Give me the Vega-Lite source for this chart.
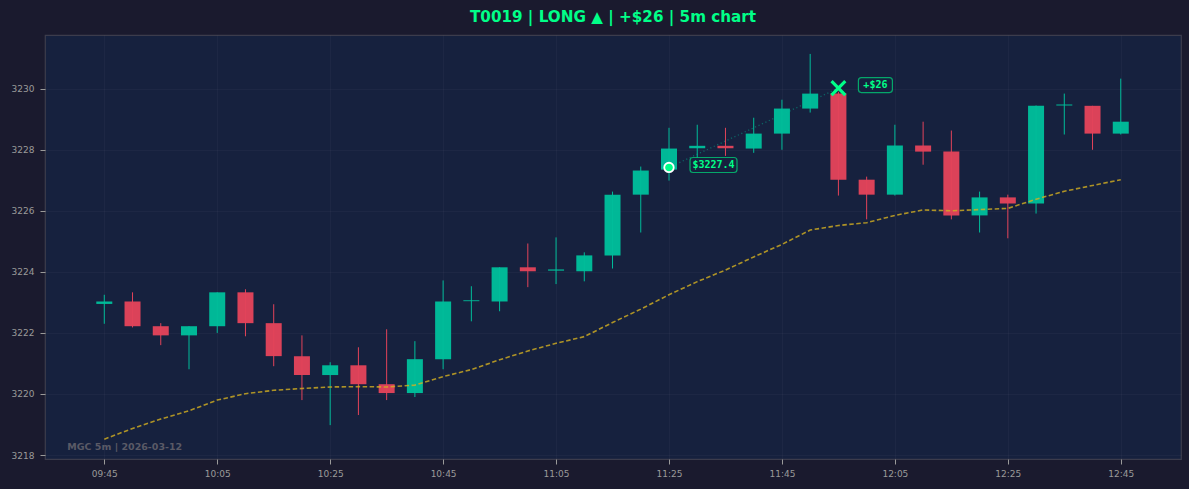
{
  "$schema": "https://vega.github.io/schema/vega-lite/v6.json",
  "width": 1136,
  "height": 424,
  "autosize": "none",
  "padding": {"left": 45, "top": 35, "right": 8, "bottom": 30},
  "background": "#1a1a2e",
  "title": {
    "text": "T0019 | LONG ▲ | +$26 | 5m chart",
    "font": "DejaVu Sans",
    "fontSize": 15.2,
    "fontWeight": "bold",
    "color": "#00ff88",
    "anchor": "middle",
    "offset": 10
  },
  "datasets": {
    "candles": [
      {"t": "2026-03-12T09:45:00", "open": 3222.95, "high": 3223.25, "low": 3222.3, "close": 3223.03},
      {"t": "2026-03-12T09:50:00", "open": 3223.03, "high": 3223.33, "low": 3222.18, "close": 3222.22},
      {"t": "2026-03-12T09:55:00", "open": 3222.22, "high": 3222.32, "low": 3221.6, "close": 3221.92},
      {"t": "2026-03-12T10:00:00", "open": 3221.92, "high": 3222.22, "low": 3220.81, "close": 3222.22},
      {"t": "2026-03-12T10:05:00", "open": 3222.22, "high": 3223.33, "low": 3222.0, "close": 3223.33},
      {"t": "2026-03-12T10:10:00", "open": 3223.33, "high": 3223.43, "low": 3221.89, "close": 3222.32},
      {"t": "2026-03-12T10:15:00", "open": 3222.32, "high": 3222.94, "low": 3220.91, "close": 3221.24},
      {"t": "2026-03-12T10:20:00", "open": 3221.24, "high": 3221.92, "low": 3219.8, "close": 3220.62},
      {"t": "2026-03-12T10:25:00", "open": 3220.62, "high": 3221.04, "low": 3218.98, "close": 3220.94},
      {"t": "2026-03-12T10:30:00", "open": 3220.94, "high": 3221.53, "low": 3219.31, "close": 3220.32},
      {"t": "2026-03-12T10:35:00", "open": 3220.32, "high": 3222.12, "low": 3219.8, "close": 3220.03},
      {"t": "2026-03-12T10:40:00", "open": 3220.03, "high": 3221.73, "low": 3219.9, "close": 3221.14},
      {"t": "2026-03-12T10:45:00", "open": 3221.14, "high": 3223.72, "low": 3220.81, "close": 3223.03},
      {"t": "2026-03-12T10:50:00", "open": 3223.04, "high": 3223.53, "low": 3222.38, "close": 3223.07},
      {"t": "2026-03-12T10:55:00", "open": 3223.03, "high": 3224.15, "low": 3222.71, "close": 3224.15},
      {"t": "2026-03-12T11:00:00", "open": 3224.15, "high": 3224.93, "low": 3223.5, "close": 3224.02},
      {"t": "2026-03-12T11:05:00", "open": 3224.04, "high": 3225.13, "low": 3223.6, "close": 3224.08},
      {"t": "2026-03-12T11:10:00", "open": 3224.02, "high": 3224.64, "low": 3223.69, "close": 3224.54},
      {"t": "2026-03-12T11:15:00", "open": 3224.54, "high": 3226.63, "low": 3224.11, "close": 3226.53},
      {"t": "2026-03-12T11:20:00", "open": 3226.53, "high": 3227.45, "low": 3225.29, "close": 3227.32},
      {"t": "2026-03-12T11:25:00", "open": 3227.35, "high": 3228.72, "low": 3226.99, "close": 3228.04},
      {"t": "2026-03-12T11:30:00", "open": 3228.05, "high": 3228.82, "low": 3227.6, "close": 3228.13},
      {"t": "2026-03-12T11:35:00", "open": 3228.13, "high": 3228.72, "low": 3227.8, "close": 3228.05},
      {"t": "2026-03-12T11:40:00", "open": 3228.04, "high": 3229.05, "low": 3227.9, "close": 3228.53},
      {"t": "2026-03-12T11:45:00", "open": 3228.53, "high": 3229.64, "low": 3228.0, "close": 3229.35},
      {"t": "2026-03-12T11:50:00", "open": 3229.35, "high": 3231.14, "low": 3229.22, "close": 3229.84},
      {"t": "2026-03-12T11:55:00", "open": 3229.84, "high": 3229.9, "low": 3226.5, "close": 3227.02},
      {"t": "2026-03-12T12:00:00", "open": 3227.02, "high": 3227.12, "low": 3225.72, "close": 3226.53},
      {"t": "2026-03-12T12:05:00", "open": 3226.53, "high": 3228.82, "low": 3226.5, "close": 3228.14},
      {"t": "2026-03-12T12:10:00", "open": 3228.14, "high": 3228.92, "low": 3227.51, "close": 3227.94},
      {"t": "2026-03-12T12:15:00", "open": 3227.94, "high": 3228.63, "low": 3225.72, "close": 3225.85},
      {"t": "2026-03-12T12:20:00", "open": 3225.85, "high": 3226.63, "low": 3225.29, "close": 3226.44},
      {"t": "2026-03-12T12:25:00", "open": 3226.44, "high": 3226.53, "low": 3225.1, "close": 3226.24},
      {"t": "2026-03-12T12:30:00", "open": 3226.24, "high": 3229.45, "low": 3225.91, "close": 3229.44},
      {"t": "2026-03-12T12:35:00", "open": 3229.45, "high": 3229.84, "low": 3228.5, "close": 3229.48},
      {"t": "2026-03-12T12:40:00", "open": 3229.44, "high": 3229.44, "low": 3228.0, "close": 3228.53},
      {"t": "2026-03-12T12:45:00", "open": 3228.53, "high": 3230.33, "low": 3228.5, "close": 3228.92}
    ],
    "ma": [
      {"t": "2026-03-12T09:45:00", "ma": 3218.52},
      {"t": "2026-03-12T09:50:00", "ma": 3218.87},
      {"t": "2026-03-12T09:55:00", "ma": 3219.18},
      {"t": "2026-03-12T10:00:00", "ma": 3219.45},
      {"t": "2026-03-12T10:05:00", "ma": 3219.8},
      {"t": "2026-03-12T10:10:00", "ma": 3220.01},
      {"t": "2026-03-12T10:15:00", "ma": 3220.12},
      {"t": "2026-03-12T10:20:00", "ma": 3220.18},
      {"t": "2026-03-12T10:25:00", "ma": 3220.23},
      {"t": "2026-03-12T10:30:00", "ma": 3220.24},
      {"t": "2026-03-12T10:35:00", "ma": 3220.23},
      {"t": "2026-03-12T10:40:00", "ma": 3220.29},
      {"t": "2026-03-12T10:45:00", "ma": 3220.57},
      {"t": "2026-03-12T10:50:00", "ma": 3220.8},
      {"t": "2026-03-12T10:55:00", "ma": 3221.12},
      {"t": "2026-03-12T11:00:00", "ma": 3221.41},
      {"t": "2026-03-12T11:05:00", "ma": 3221.66},
      {"t": "2026-03-12T11:10:00", "ma": 3221.88},
      {"t": "2026-03-12T11:15:00", "ma": 3222.34},
      {"t": "2026-03-12T11:20:00", "ma": 3222.78},
      {"t": "2026-03-12T11:25:00", "ma": 3223.25},
      {"t": "2026-03-12T11:30:00", "ma": 3223.68},
      {"t": "2026-03-12T11:35:00", "ma": 3224.06},
      {"t": "2026-03-12T11:40:00", "ma": 3224.49},
      {"t": "2026-03-12T11:45:00", "ma": 3224.9},
      {"t": "2026-03-12T11:50:00", "ma": 3225.37},
      {"t": "2026-03-12T11:55:00", "ma": 3225.52},
      {"t": "2026-03-12T12:00:00", "ma": 3225.61},
      {"t": "2026-03-12T12:05:00", "ma": 3225.85},
      {"t": "2026-03-12T12:10:00", "ma": 3226.03},
      {"t": "2026-03-12T12:15:00", "ma": 3226.0},
      {"t": "2026-03-12T12:20:00", "ma": 3226.04},
      {"t": "2026-03-12T12:25:00", "ma": 3226.08},
      {"t": "2026-03-12T12:30:00", "ma": 3226.38},
      {"t": "2026-03-12T12:35:00", "ma": 3226.64},
      {"t": "2026-03-12T12:40:00", "ma": 3226.83},
      {"t": "2026-03-12T12:45:00", "ma": 3227.02}
    ],
    "trade": [
      {"t": "2026-03-12T11:25:00", "price": 3227.42, "kind": "entry", "label": "$3227.4"},
      {"t": "2026-03-12T11:55:00", "price": 3230.02, "kind": "exit", "label": "+$26"}
    ],
    "notes": [
      {"t": "2026-03-12T09:38:27", "price": 3218.25, "note": "MGC 5m | 2026-03-12"}
    ]
  },
  "encoding": {
    "x": {
      "field": "t",
      "type": "temporal",
      "title": null,
      "scale": {
        "padding": 0,
        "domain": [
          {"year": 2026, "month": 3, "date": 12, "hours": 9, "minutes": 34, "seconds": 30},
          {"year": 2026, "month": 3, "date": 12, "hours": 12, "minutes": 55, "seconds": 40}
        ]
      },
      "axis": {
        "format": "%H:%M",
        "values": [
          {"year": 2026, "month": 3, "date": 12, "hours": 9, "minutes": 45},
          {"year": 2026, "month": 3, "date": 12, "hours": 10, "minutes": 5},
          {"year": 2026, "month": 3, "date": 12, "hours": 10, "minutes": 25},
          {"year": 2026, "month": 3, "date": 12, "hours": 10, "minutes": 45},
          {"year": 2026, "month": 3, "date": 12, "hours": 11, "minutes": 5},
          {"year": 2026, "month": 3, "date": 12, "hours": 11, "minutes": 25},
          {"year": 2026, "month": 3, "date": 12, "hours": 11, "minutes": 45},
          {"year": 2026, "month": 3, "date": 12, "hours": 12, "minutes": 5},
          {"year": 2026, "month": 3, "date": 12, "hours": 12, "minutes": 25},
          {"year": 2026, "month": 3, "date": 12, "hours": 12, "minutes": 45}
        ],
        "labelPadding": 5
      }
    }
  },
  "layer": [
    {
      "data": {"name": "trade"},
      "mark": {"type": "line", "stroke": "#00b894", "strokeOpacity": 0.45, "strokeWidth": 1.3, "strokeDash": [1.2, 2.6]},
      "encoding": {
        "y": {"field": "price", "type": "quantitative"}
      }
    },
    {
      "data": {"name": "candles"},
      "mark": {"type": "rule", "strokeWidth": 1},
      "encoding": {
        "y": {
          "field": "low",
          "type": "quantitative",
          "title": null,
          "scale": {"domain": [3217.87, 3231.76], "nice": false, "zero": false},
          "axis": {"values": [3218, 3220, 3222, 3224, 3226, 3228, 3230], "format": "d", "labelPadding": 6}
        },
        "y2": {"field": "high"},
        "color": {
          "condition": {"test": "datum.close >= datum.open", "value": "#00bd9a"},
          "value": "#e2435a"
        }
      }
    },
    {
      "data": {"name": "candles"},
      "mark": {"type": "bar", "width": 16, "opacity": 0.97},
      "encoding": {
        "y": {"field": "open", "type": "quantitative"},
        "y2": {"field": "close"},
        "color": {
          "condition": {"test": "datum.close >= datum.open", "value": "#00bd9a"},
          "value": "#e2435a"
        }
      }
    },
    {
      "data": {"name": "ma"},
      "mark": {"type": "line", "stroke": "#d4b020", "strokeOpacity": 0.8, "strokeWidth": 1.6, "strokeDash": [4.5, 2.5]},
      "encoding": {
        "y": {"field": "ma", "type": "quantitative"}
      }
    },
    {
      "data": {"name": "trade"},
      "transform": [{"filter": "datum.kind == 'entry'"}],
      "mark": {"type": "point", "shape": "circle", "filled": true, "size": 90, "fill": "#00ff88", "stroke": "#ffffff", "strokeWidth": 1.8, "opacity": 1},
      "encoding": {
        "y": {"field": "price", "type": "quantitative"}
      }
    },
    {
      "data": {"name": "trade"},
      "transform": [{"filter": "datum.kind == 'exit'"}],
      "mark": {"type": "point", "shape": "M-1,-1L1,1M-1,1L1,-1", "filled": false, "size": 190, "stroke": "#00ff88", "strokeWidth": 3.2, "opacity": 1},
      "encoding": {
        "y": {"field": "price", "type": "quantitative"}
      }
    },
    {
      "data": {"name": "trade"},
      "transform": [{"filter": "datum.kind == 'entry'"}],
      "mark": {"type": "rect", "xOffset": 21, "x2Offset": 68, "yOffset": -10, "y2Offset": 5, "fill": "#16213e", "stroke": "#00d47a", "strokeOpacity": 0.75, "strokeWidth": 1.2, "cornerRadius": 3},
      "encoding": {
        "x2": {"field": "t"},
        "y": {"field": "price", "type": "quantitative"},
        "y2": {"field": "price"}
      }
    },
    {
      "data": {"name": "trade"},
      "transform": [{"filter": "datum.kind == 'exit'"}],
      "mark": {"type": "rect", "xOffset": 20, "x2Offset": 54, "yOffset": -10.5, "y2Offset": 4.5, "fill": "#16213e", "stroke": "#00d47a", "strokeOpacity": 0.75, "strokeWidth": 1.2, "cornerRadius": 3},
      "encoding": {
        "x2": {"field": "t"},
        "y": {"field": "price", "type": "quantitative"},
        "y2": {"field": "price"}
      }
    },
    {
      "data": {"name": "trade"},
      "transform": [{"filter": "datum.kind == 'entry'"}],
      "mark": {"type": "text", "dx": 44.5, "dy": -2.5, "align": "center", "baseline": "middle", "font": "DejaVu Sans Mono", "fontWeight": "bold", "fontSize": 10, "color": "#00ff88"},
      "encoding": {
        "y": {"field": "price", "type": "quantitative"},
        "text": {"field": "label"}
      }
    },
    {
      "data": {"name": "trade"},
      "transform": [{"filter": "datum.kind == 'exit'"}],
      "mark": {"type": "text", "dx": 37, "dy": -3, "align": "center", "baseline": "middle", "font": "DejaVu Sans Mono", "fontWeight": "bold", "fontSize": 10, "color": "#00ff88"},
      "encoding": {
        "y": {"field": "price", "type": "quantitative"},
        "text": {"field": "label"}
      }
    },
    {
      "data": {"name": "notes"},
      "mark": {"type": "text", "align": "left", "baseline": "middle", "font": "DejaVu Sans", "fontWeight": "bold", "fontSize": 9.5, "color": "#5a5a66"},
      "encoding": {
        "y": {"field": "price", "type": "quantitative"},
        "text": {"field": "note"}
      }
    }
  ],
  "config": {
    "view": {"fill": "#16213e", "stroke": "#3c3c4c", "strokeWidth": 1.2},
    "axis": {
      "labelFont": "DejaVu Sans",
      "labelFontSize": 9,
      "labelColor": "#9a9a9a",
      "tickColor": "#9a9a9a",
      "tickSize": 5,
      "domain": false,
      "grid": true,
      "gridColor": "#ffffff",
      "gridOpacity": 0.03
    }
  }
}
